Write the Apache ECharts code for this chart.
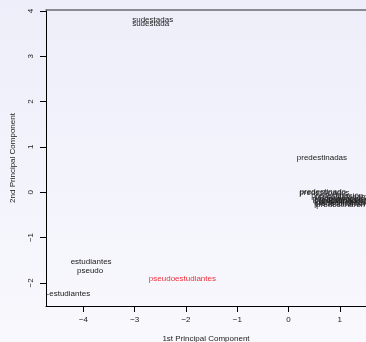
<!DOCTYPE html>
<html>
<head>
<meta charset="utf-8">
<script src="https://cdn.jsdelivr.net/npm/echarts@6/dist/echarts.min.js"></script>
<style>
  html, body { margin: 0; padding: 0; }
  body { background: linear-gradient(#eeeefa, #f8f8fd); }
  #chart { width: 366px; height: 342px; }
</style>
</head>
<body>
<div id="chart"></div>
<script>
const words = [
  "sudestadas", "sudestada", "predestinadas",
  "predestinado", "predestinados", "predestinación", "predestinaciones",
  "predestinando", "predestinadores", "predestinarían",
  "predestinadamente", "predestinaron", "predestinarlos", "predestinaremos",
  "estudiantes", "pseudo", "pseudoestudiantes", "pseudo-estudiantes"
];
const pc1 = [-2.65, -2.69, 0.65, 0.67, 0.70, 0.95, 1.06, 1.10, 1.06, 1.00, 1.18, 0.98, 1.02, 1.12, -3.85, -3.87, -2.07, -4.55];
const pc2 = [3.80, 3.71, 0.75, 0.01, -0.01, -0.08, -0.14, -0.18, -0.20, -0.26, -0.11, -0.17, -0.23, -0.28, -1.545, -1.74, -1.90, -2.25];
const highlighted = [0, 0, 0, 0, 0, 0, 0, 0, 0, 0, 0, 0, 0, 0, 0, 0, 1, 0];
const xTicks = [-4, -3, -2, -1, 0, 1];
const yTicks = [-2, -1, 0, 1, 2, 3, 4];

const font = '"Liberation Sans", Arial, sans-serif';
const minus = (v) => String(v).replace("-", "\u2212");

const chart = echarts.init(document.getElementById("chart"), null, { renderer: "canvas" });

chart.setOption({
  animation: false,
  backgroundColor: "transparent",
  grid: { left: 46, right: 0, top: 10, bottom: 36, show: false, outerBoundsMode: "none", containLabel: false },
  xAxis: [
    {
      type: "value",
      min: -4.73,
      max: 1.51,
      position: "bottom",
      name: "1st Principal Component",
      nameLocation: "middle",
      nameGap: 28.5,
      nameTextStyle: { fontFamily: font, fontSize: 8, color: "#222" },
      axisLine: { show: true, onZero: false, lineStyle: { color: "#000", width: 1 } },
      axisTick: { show: true, length: 6, lineStyle: { color: "#000" }, customValues: xTicks },
      axisLabel: {
        fontFamily: font, fontSize: 8, color: "#222", margin: 10,
        customValues: xTicks, formatter: minus
      },
      splitLine: { show: false }
    },
    {
      type: "value",
      min: -4.73,
      max: 1.51,
      position: "top",
      axisLine: { show: true, onZero: false, lineStyle: { color: "#6a6a72", width: 1.5 } },
      axisTick: { show: false },
      axisLabel: { show: false },
      splitLine: { show: false }
    }
  ],
  yAxis: {
    type: "value",
    min: -2.51,
    max: 4.02,
    name: "2nd Principal Component",
    nameLocation: "middle",
    nameGap: 29,
    nameTextStyle: { fontFamily: font, fontSize: 8, color: "#222" },
    axisLine: { show: true, onZero: false, lineStyle: { color: "#000", width: 1 } },
    axisTick: { show: true, length: 6, lineStyle: { color: "#000" }, customValues: yTicks },
    axisLabel: {
      fontFamily: font, fontSize: 8, color: "#222", margin: 11, rotate: 90,
      customValues: yTicks, formatter: minus
    },
    splitLine: { show: false }
  },
  series: [
    {
      type: "custom",
      clip: true,
      data: words.map((w, i) => [pc1[i], pc2[i], i]),
      renderItem: (params, api) => {
        const i = api.value(2);
        const p = api.coord([api.value(0), api.value(1)]);
        return {
          type: "text",
          x: p[0],
          y: p[1],
          style: {
            text: words[i],
            fill: highlighted[i] ? "#f0303a" : "#1a1a1a",
            font: "8px " + font,
            align: "center",
            verticalAlign: "middle"
          }
        };
      }
    }
  ]
});
</script>
</body>
</html>
